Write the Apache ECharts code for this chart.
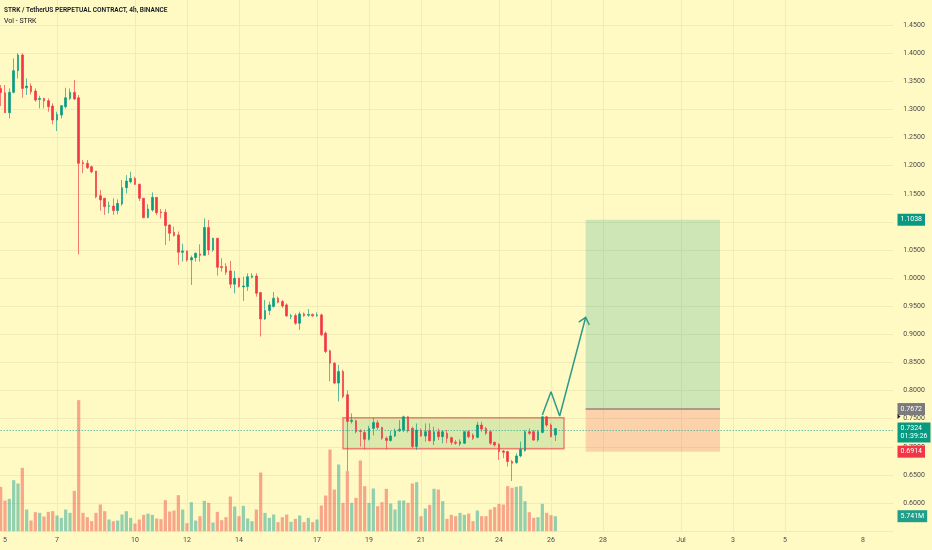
<!DOCTYPE html>
<html><head><meta charset="utf-8">
<script src="https://cdn.jsdelivr.net/npm/echarts@6/dist/echarts.min.js"></script>
<style>html,body{margin:0;padding:0;background:#fff9c4;}#c{width:932px;height:550px;}</style>
</head><body><div id="c"></div>
<script>
// 4h candles [open, close, low, high], first candle 2024-06-04 20:00
const candles = [
[1.3373,1.3297,1.3060,1.3433],[1.3297,1.2941,1.2941,1.3433],[1.2941,1.3303,1.2840,1.3373],[1.3303,1.3689,1.3285,1.3907],
[1.3689,1.3967,1.3552,1.3997],[1.3967,1.3373,1.3207,1.3997],[1.3385,1.3414,1.3255,1.3552],[1.3414,1.3314,1.3267,1.3464],
[1.3326,1.3166,1.3137,1.3373],[1.3178,1.3195,1.3018,1.3243],[1.3195,1.3148,1.3018,1.3207],[1.3154,1.3048,1.2959,1.3195],
[1.3060,1.2811,1.2734,1.3107],[1.2811,1.2911,1.2615,1.2959],[1.2899,1.3066,1.2840,1.3078],[1.3048,1.3207,1.3018,1.3385],
[1.3195,1.3303,1.3166,1.3373],[1.3303,1.3184,1.3166,1.3522],[1.3207,1.2041,1.0422,1.3255],[1.2053,1.2035,1.1864,1.2100],
[1.2041,1.1964,1.1940,1.2100],[1.1981,1.1892,1.1864,1.1999],[1.1904,1.1448,1.1419,1.1904],[1.1466,1.1389,1.1200,1.1566],
[1.1419,1.1270,1.1123,1.1419],[1.1276,1.1288,1.1153,1.1359],[1.1282,1.1200,1.1123,1.1419],[1.1200,1.1329,1.1135,1.1400],
[1.1318,1.1607,1.1288,1.1744],[1.1607,1.1726,1.1507,1.1832],[1.1714,1.1773,1.1685,1.1892],[1.1773,1.1667,1.1655,1.1804],
[1.1667,1.1419,1.1371,1.1680],[1.1419,1.1076,1.1064,1.1425],[1.1076,1.1229,1.1064,1.1312],[1.1211,1.1436,1.1182,1.1524],
[1.1436,1.1164,1.1123,1.1440],[1.1176,1.1164,1.1064,1.1229],[1.1170,1.0934,1.0588,1.1229],[1.0945,1.0797,1.0661,1.0956],
[1.0815,1.0756,1.0738,1.0915],[1.0768,1.0459,1.0236,1.0827],[1.0459,1.0483,1.0294,1.0612],[1.0483,1.0323,1.0294,1.0490],
[1.0323,1.0364,0.9879,1.0399],[1.0364,1.0441,1.0294,1.0458],[1.0429,1.0405,1.0294,1.0601],[1.0405,1.0902,1.0400,1.1062],
[1.0902,1.0501,1.0412,1.1033],[1.0501,1.0708,1.0471,1.0719],[1.0708,1.0193,1.0045,1.0715],[1.0205,1.0187,1.0117,1.0352],
[1.0205,1.0104,1.0057,1.0264],[1.0128,0.9891,0.9819,1.0305],[0.9891,0.9997,0.9730,1.0128],[0.9997,0.9849,0.9831,1.0009],
[0.9843,0.9861,0.9594,1.0026],[0.9849,1.0026,0.9772,1.0085],[1.0015,1.0038,0.9997,1.0085],[1.0038,0.9730,0.9671,1.0085],
[0.9742,0.9274,0.8961,0.9750],[0.9274,0.9423,0.9257,0.9612],[0.9423,0.9524,0.9346,0.9583],[0.9494,0.9642,0.9477,0.9754],
[0.9642,0.9571,0.9553,0.9671],[0.9583,0.9506,0.9471,0.9612],[0.9524,0.9329,0.9310,0.9551],[0.9320,0.9329,0.9270,0.9364],
[0.9334,0.9198,0.9169,0.9370],[0.9198,0.9364,0.9080,0.9405],[0.9364,0.9334,0.9310,0.9390],[0.9340,0.9355,0.9310,0.9450],
[0.9355,0.9329,0.9310,0.9370],[0.9334,0.9346,0.9310,0.9390],[0.9346,0.8992,0.8969,0.9370],[0.9021,0.8695,0.8667,0.9049],
[0.8707,0.8488,0.8165,0.8727],[0.8488,0.8133,0.8114,0.8506],[0.8133,0.8340,0.7808,0.8459],[0.8340,0.7896,0.7863,0.8369],
[0.7926,0.7452,0.6570,0.8002],[0.7452,0.7474,0.7414,0.7594],[0.7463,0.7269,0.7240,0.7484],[0.7284,0.7274,0.7004,0.7314],
[0.7257,0.7134,0.6954,0.7304],[0.7134,0.7328,0.7114,0.7374],[0.7328,0.7434,0.7204,0.7514],[0.7428,0.7345,0.7304,0.7474],
[0.7345,0.7154,0.7124,0.7354],[0.7154,0.7114,0.6954,0.7184],[0.7114,0.7194,0.7094,0.7284],[0.7194,0.7284,0.7174,0.7324],
[0.7284,0.7314,0.7264,0.7474],[0.7294,0.7534,0.7264,0.7554],[0.7534,0.7284,0.7254,0.7544],[0.7328,0.7004,0.6974,0.7357],
[0.7004,0.7298,0.6945,0.7416],[0.7298,0.7192,0.7181,0.7328],[0.7192,0.7269,0.7092,0.7416],[0.7287,0.7110,0.7092,0.7416],
[0.7110,0.7269,0.7033,0.7357],[0.7269,0.7181,0.7122,0.7328],[0.7181,0.7269,0.7063,0.7298],[0.7240,0.7151,0.7063,0.7298],
[0.7163,0.7080,0.7033,0.7181],[0.7080,0.7063,0.7033,0.7122],[0.7051,0.7092,0.7016,0.7134],[0.7063,0.7269,0.7051,0.7287],
[0.7269,0.7181,0.7151,0.7298],[0.7210,0.7151,0.7122,0.7240],[0.7169,0.7387,0.7151,0.7446],[0.7387,0.7316,0.7269,0.7446],
[0.7328,0.7240,0.7210,0.7357],[0.7269,0.7063,0.7033,0.7298],[0.7080,0.7033,0.7004,0.7092],[0.7045,0.6915,0.6767,0.7063],
[0.6926,0.6903,0.6797,0.6945],[0.6915,0.6738,0.6650,0.6932],[0.6738,0.6708,0.6392,0.6767],[0.6720,0.6838,0.6697,0.6885],
[0.6838,0.6956,0.6814,0.7092],[0.6932,0.7269,0.6915,0.7298],[0.7269,0.7240,0.7210,0.7328],[0.7269,0.7122,0.7104,0.7298],
[0.7122,0.7269,0.7092,0.7298],[0.7257,0.7534,0.7240,0.7546],[0.7534,0.7387,0.7357,0.7546],[0.7387,0.7181,0.7169,0.7416],
[0.7210,0.7324,0.7104,0.7328]
];
// volume in millions, same order
const volumes = [
16.97,11.74,12.38,19.52,18.25,24.24,8.29,4.08,7.27,7.02,
5.61,7.40,7.66,6.00,5.10,8.29,7.02,15.44,50.15,7.02,
5.36,3.83,7.02,10.21,7.66,4.47,3.83,4.08,6.38,7.66,
5.10,2.93,4.47,6.25,6.76,6.25,4.85,4.59,11.87,7.53,
7.91,13.78,8.29,3.06,11.10,4.08,5.74,11.61,10.85,3.32,
7.40,4.21,5.36,13.27,9.44,5.74,9.70,4.85,3.83,8.29,
22.46,7.02,5.10,6.38,3.45,5.36,6.38,3.57,4.72,6.00,
3.45,5.10,3.45,4.47,9.83,13.65,31.26,15.95,25.52,10.85,
23.00,10.85,12.76,27.05,17.23,10.85,16.33,9.57,11.10,16.21,
10.59,8.29,11.74,11.74,10.85,18.25,18.76,5.74,8.68,10.08,
16.21,15.95,11.48,4.72,6.25,5.74,7.02,6.25,6.76,3.83,
7.91,5.74,5.74,8.29,9.19,10.46,10.21,17.23,16.59,16.97,
17.23,11.48,7.27,5.10,5.36,10.46,7.02,6.13,5.741
];
const tickDates = ['2024-06-05 00:00','2024-06-07 00:00','2024-06-10 00:00','2024-06-12 00:00','2024-06-14 00:00','2024-06-17 00:00','2024-06-19 00:00','2024-06-21 00:00','2024-06-24 00:00','2024-06-26 00:00','2024-06-28 00:00','2024-07-01 00:00','2024-07-03 00:00','2024-07-05 00:00','2024-07-08 00:00'];
const tickTexts = ['5','7','10','12','14','17','19','21','24','26','28','Jul','3','5','8'];
// drawings
const rangeBox = {from:'2024-06-18 00:00', to:'2024-06-26 12:00', top:0.7517, bottom:0.6966};
const position = {from:'2024-06-27 08:00', to:'2024-07-02 12:00', target:1.1038, entry:0.7672, stop:0.6914};
const arrowPath = [['2024-06-25 16:00',0.7565],['2024-06-26 00:00',0.7980],['2024-06-26 08:00',0.7548],['2024-06-27 08:00',0.9303]];
const lastPrice = 0.7324, lastVolume = 5.741, countdown = '01:39:26';

const pad = n => String(n).padStart(2,'0');
const cats = [];
const t0 = Date.UTC(2024,5,4,20,0);
for (let k = 0; k < 207; k++) {
  const d = new Date(t0 + k*4*3600*1000);
  cats.push(d.getUTCFullYear()+'-'+pad(d.getUTCMonth()+1)+'-'+pad(d.getUTCDate())+' '+pad(d.getUTCHours())+':00');
}
const tickMap = new Map(tickDates.map((d,i)=>[d,tickTexts[i]]));
const UP='#089981', DOWN='#f23645', BG='#fff9c4', GRID='#f1ebb5';

const chart = echarts.init(document.getElementById('c'));
chart.setOption({
  backgroundColor: BG,
  animation: false,
  grid: {left:0.67, top:0, width:892.67, height:531.2, show:false},
  xAxis: {
    type:'category', data:cats, boundaryGap:false,
    axisLine:{show:false}, axisTick:{show:false},
    axisLabel:{interval:(i,v)=>tickMap.has(v), formatter:v=>tickMap.get(v)||'', color:'#4a4a4a', fontSize:7, fontFamily:'Roboto', margin:6},
    splitLine:{show:true, showMinLine:false, showMaxLine:false, interval:(i,v)=>tickMap.has(v), lineStyle:{color:GRID, width:1}}
  },
  yAxis: [
    {type:'value', position:'right', min:0.55, max:1.4945, interval:0.05,
     axisLine:{show:false}, axisTick:{show:false},
     axisLabel:{formatter:v=>v.toFixed(4), color:'#4a4a4a', fontSize:7, fontFamily:'Roboto', margin:10, showMinLabel:false, showMaxLabel:false},
     splitLine:{showMaxLine:false, lineStyle:{color:GRID, width:1}}},
    {type:'value', min:0, max:203.3, show:false, splitLine:{show:false}}
  ],
  series: [
    {type:'bar', name:'Vol', yAxisIndex:1, barWidth:3.2, z:1, silent:true,
     data: volumes.map((v,i)=>({value:v, itemStyle:{color: candles[i][1]>=candles[i][0] ? 'rgba(38,166,154,0.5)' : 'rgba(239,83,80,0.5)'}}))},
    {type:'line', name:'drawing', z:2, silent:true, symbol:'none', data:arrowPath,
     lineStyle:{color:'#2f9a85', width:1.5},
     markArea:{silent:true, data:[
       [{xAxis:rangeBox.from, yAxis:rangeBox.top, itemStyle:{color:'rgba(76,175,80,0.2)', borderColor:'rgba(242,54,69,0.6)', borderWidth:1.5}},
        {xAxis:rangeBox.to, yAxis:rangeBox.bottom}],
       [{xAxis:position.from, yAxis:position.target, itemStyle:{color:'rgba(8,153,129,0.2)'}},
        {xAxis:position.to, yAxis:position.entry}],
       [{xAxis:position.from, yAxis:position.entry, itemStyle:{color:'rgba(242,54,69,0.2)'}},
        {xAxis:position.to, yAxis:position.stop}]
     ]},
     markLine:{silent:true, symbol:'none', label:{show:false}, lineStyle:{color:'#a89a8c', width:2, type:'solid'},
       data:[[{xAxis:position.from, yAxis:position.entry},{xAxis:position.to, yAxis:position.entry}]]}},
    {type:'candlestick', name:'STRK', z:3, silent:true, barWidth:2, data:candles,
     itemStyle:{color:UP, color0:DOWN, borderColor:'rgba(8,153,129,0.65)', borderColor0:'rgba(242,54,69,0.65)', borderWidth:1},
     markLine:{silent:true, symbol:'none', label:{show:false}, lineStyle:{color:'#26a69a', width:1, type:[1,2]},
       data:[{yAxis:lastPrice}]}}
  ]
});

const py = v => chart.convertToPixel({yAxisIndex:0}, v);
const vy = v => chart.convertToPixel({yAxisIndex:1}, v);
const p1 = chart.convertToPixel({seriesIndex:1}, arrowPath[2]);
const p2 = chart.convertToPixel({seriesIndex:1}, arrowPath[3]);
const dx = p2[0]-p1[0], dy = p2[1]-p1[1], L = Math.hypot(dx,dy);
const bx = -dx/L, by = -dy/L, ang = 40*Math.PI/180, wl = 8.5;
const wing = s => [p2[0] + wl*(bx*Math.cos(s*ang) - by*Math.sin(s*ang)), p2[1] + wl*(bx*Math.sin(s*ang) + by*Math.cos(s*ang))];
const LX = 897.5;
const tag = (y, text, bg, va) => ({type:'text', x:LX, y:y, z:100,
  style:{text:text, fill:'#ffffff', font:'7px Roboto', backgroundColor:bg, padding:[2,3,2,3], verticalAlign:va||'middle', align:'left', lineHeight:8}});
chart.setOption({graphic:[
  {type:'text', x:4, y:10, z:100, scaleX:0.84, style:{text:'STRK / TetherUS PERPETUAL CONTRACT, 4h, BINANCE', font:'600 7.8px Roboto', fill:'#131722', verticalAlign:'middle'}},
  {type:'text', x:4, y:21, z:100, style:{text:'Vol - STRK', font:'7px Roboto', fill:'#131722', verticalAlign:'middle'}},
  {type:'polyline', z:50, shape:{points:[wing(1), p2, wing(-1)]}, style:{stroke:'#2f9a85', lineWidth:1.5, fill:null}},
  tag(py(position.target), position.target.toFixed(4), '#089981'),
  tag(py(position.entry), position.entry.toFixed(4), '#7b7b7b'),
  tag(py(lastPrice)-6, lastPrice.toFixed(4)+'\n'+countdown, '#089981', 'top'),
  tag(py(position.stop), position.stop.toFixed(4), '#f23645'),
  tag(vy(lastVolume), lastVolume.toFixed(3)+'M', '#1f9e89'),
  {type:'polygon', z:101, shape:{points:[[LX,py(position.entry)+5],[LX+3,py(position.entry)+7.5],[LX,py(position.entry)+10]]}, style:{fill:'#222'}}
]});
</script>
</body></html>
